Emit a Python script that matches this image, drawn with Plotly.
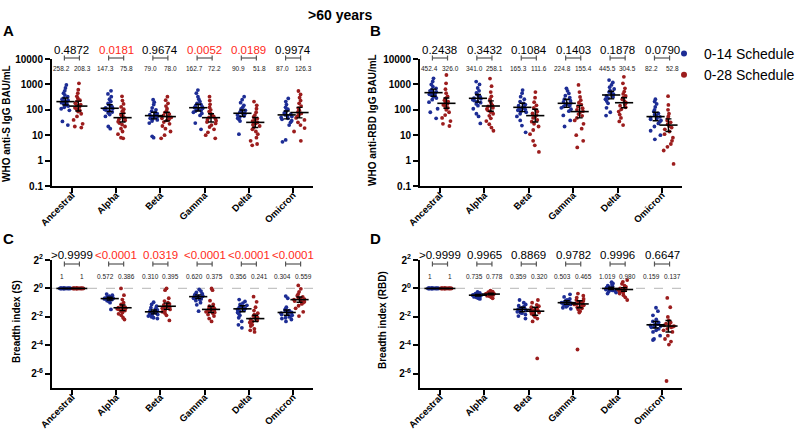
import plotly.graph_objects as go

# ---------------- data ----------------
categories = ["Ancestral", "Alpha", "Beta", "Gamma", "Delta", "Omicron"]
series_names = ["0-14 Schedule", "0-28 Schedule"]

# Panel A: WHO anti-S IgG BAU/mL
A_blue = [
    [950, 720, 560, 450, 380, 330, 290, 260, 240, 220, 205, 190, 175, 160, 150, 140, 125, 110, 95, 35, 25],
    [560, 420, 330, 260, 210, 180, 160, 145, 130, 120, 112, 105, 98, 90, 82, 75, 65, 55, 22, 18],
    [250, 200, 160, 120, 100, 88, 78, 70, 64, 60, 56, 52, 49, 46, 43, 40, 36, 30, 9, 8],
    [600, 450, 330, 260, 210, 180, 160, 145, 130, 122, 115, 108, 100, 94, 88, 80, 72, 60, 30, 17],
    [330, 250, 190, 150, 125, 108, 95, 86, 80, 74, 70, 66, 62, 57, 52, 47, 42, 36, 11],
    [280, 210, 160, 125, 105, 92, 82, 74, 68, 63, 58, 54, 50, 46, 42, 37, 32, 25, 6.5, 5.5],
]
A_red = [
    [1100, 620, 450, 340, 280, 240, 210, 180, 160, 145, 130, 120, 105, 95, 85, 70, 55, 40, 28, 22, 20],
    [340, 230, 170, 130, 105, 88, 75, 65, 58, 52, 47, 42, 38, 34, 30, 26, 22, 18, 14, 11, 8, 7.5],
    [330, 240, 180, 140, 110, 90, 78, 68, 60, 54, 50, 46, 42, 38, 33, 28, 23, 18, 14, 10, 7.5],
    [330, 230, 165, 125, 100, 85, 72, 62, 55, 50, 45, 41, 37, 33, 29, 25, 21, 17, 13, 10, 7.5],
    [210, 150, 110, 80, 62, 52, 45, 40, 36, 32, 29, 26, 23, 20, 17, 14, 11, 8, 6, 4.5, 4],
    [550, 400, 300, 230, 180, 140, 115, 95, 82, 72, 64, 56, 48, 40, 32, 25, 19, 14, 6],
]
A_blue_mean = [210, 115, 59, 121, 73, 63]
A_blue_lo = [155, 85, 44, 90, 55, 44]
A_blue_hi = [290, 160, 80, 165, 98, 90]
A_red_mean = [140, 49, 54, 49, 32, 78]
A_red_lo = [90, 33, 36, 33, 20, 48]
A_red_hi = [220, 72, 80, 70, 50, 125]
A_p = ["0.4872", "0.0181", "0.9674", "0.0052", "0.0189", "0.9974"]
A_p_sig = [False, True, False, True, True, False]
A_gmt_blue = ["258.2", "147.3", "79.0", "162.7", "90.9", "87.0"]
A_gmt_red = ["208.3", "75.8", "78.0", "72.2", "51.8", "126.3"]

# Panel B: WHO anti-RBD IgG BAU/mL
B_blue = [
    [1740, 1300, 1000, 820, 700, 620, 560, 510, 470, 440, 410, 380, 350, 320, 290, 250, 200, 110, 80, 46],
    [1290, 1000, 720, 560, 460, 400, 350, 320, 290, 270, 250, 230, 210, 190, 170, 145, 110, 70, 55, 29],
    [600, 450, 330, 260, 210, 180, 160, 145, 130, 120, 112, 104, 96, 88, 80, 70, 55, 38, 24, 13],
    [700, 560, 440, 360, 300, 260, 230, 205, 185, 170, 158, 146, 134, 120, 105, 88, 60, 38, 22],
    [1480, 1200, 950, 780, 660, 570, 500, 450, 410, 380, 350, 320, 290, 260, 220, 180, 120, 80, 59],
    [260, 210, 170, 130, 100, 85, 72, 64, 58, 53, 49, 45, 42, 38, 34, 29, 22, 15, 10, 6.9],
]
B_red = [
    [2340, 1100, 650, 450, 340, 280, 240, 210, 190, 170, 155, 140, 120, 100, 80, 62, 48, 36, 28, 23],
    [1700, 850, 500, 340, 260, 210, 175, 150, 135, 120, 108, 95, 82, 70, 58, 46, 36, 27, 20, 15],
    [500, 300, 200, 150, 120, 100, 85, 72, 62, 55, 48, 40, 34, 28, 22, 16, 11, 6, 4, 2.2],
    [950, 500, 320, 240, 190, 160, 135, 115, 100, 88, 78, 68, 58, 48, 38, 28, 18, 10, 6, 3.3],
    [1990, 1100, 700, 520, 420, 350, 300, 260, 220, 190, 165, 145, 125, 105, 85, 65, 48, 35, 25],
    [345, 155, 100, 70, 55, 45, 38, 32, 27, 23, 20, 17, 14, 11, 8, 6, 4.5, 3.5, 2.5, 0.74],
]
B_blue_mean = [473, 283, 125, 180, 383, 54]
B_blue_lo = [340, 200, 85, 125, 270, 37]
B_blue_hi = [650, 400, 180, 260, 540, 80]
B_red_mean = [180, 141, 59, 85, 190, 25]
B_red_lo = [115, 88, 33, 48, 120, 14]
B_red_hi = [290, 225, 105, 150, 300, 44]
B_p = ["0.2438", "0.3432", "0.1084", "0.1403", "0.1878", "0.0790"]
B_p_sig = [False, False, False, False, False, False]
B_gmt_blue = ["452.4", "341.0", "165.3", "224.8", "445.5", "82.2"]
B_gmt_red = ["326.0", "258.1", "111.6", "155.4", "304.5", "52.8"]

# Panel C: Breadth index (S)
C_blue = [
    [1, 1, 1, 1, 1, 1, 1, 1, 1, 1, 1, 1, 1, 1, 1, 1, 1, 1, 1, 1],
    [0.76, 0.72, 0.69, 0.67, 0.66, 0.65, 0.64, 0.63, 0.62, 0.61, 0.60, 0.60, 0.59, 0.58, 0.57, 0.56, 0.55, 0.53, 0.50, 0.36],
    [0.51, 0.46, 0.42, 0.39, 0.37, 0.35, 0.34, 0.33, 0.32, 0.31, 0.30, 0.29, 0.29, 0.28, 0.27, 0.26, 0.25, 0.24, 0.23],
    [0.95, 0.88, 0.82, 0.78, 0.75, 0.72, 0.70, 0.68, 0.67, 0.66, 0.65, 0.63, 0.62, 0.60, 0.58, 0.55, 0.50, 0.45, 0.33],
    [0.58, 0.53, 0.49, 0.46, 0.44, 0.42, 0.40, 0.39, 0.38, 0.37, 0.36, 0.35, 0.33, 0.31, 0.29, 0.27, 0.24, 0.20, 0.17, 0.147],
    [0.69, 0.62, 0.40, 0.37, 0.35, 0.34, 0.33, 0.32, 0.31, 0.30, 0.29, 0.28, 0.27, 0.26, 0.25, 0.24, 0.23, 0.22, 0.20],
]
C_red = [
    [1, 1, 1, 1, 1, 1, 1, 1, 1, 1, 1, 1, 1, 1, 1, 1, 1, 1, 1, 1],
    [1.0, 0.72, 0.58, 0.50, 0.46, 0.43, 0.41, 0.40, 0.39, 0.38, 0.37, 0.36, 0.35, 0.34, 0.33, 0.31, 0.29, 0.27, 0.24, 0.22],
    [1.0, 0.92, 0.62, 0.54, 0.50, 0.47, 0.45, 0.43, 0.42, 0.41, 0.40, 0.38, 0.37, 0.36, 0.34, 0.32, 0.30, 0.27, 0.21],
    [1.0, 0.92, 0.55, 0.46, 0.42, 0.40, 0.38, 0.37, 0.36, 0.35, 0.34, 0.33, 0.32, 0.31, 0.30, 0.28, 0.26, 0.23, 0.20],
    [0.67, 0.52, 0.40, 0.34, 0.30, 0.28, 0.26, 0.25, 0.24, 0.23, 0.22, 0.21, 0.20, 0.19, 0.18, 0.17, 0.16, 0.14, 0.13, 0.12],
    [1.16, 0.98, 0.85, 0.76, 0.70, 0.66, 0.63, 0.61, 0.59, 0.58, 0.56, 0.54, 0.52, 0.50, 0.47, 0.43, 0.38, 0.32, 0.26],
]
C_blue_mean = [1, 0.61, 0.32, 0.67, 0.37, 0.31]
C_blue_lo = [1, 0.57, 0.29, 0.61, 0.32, 0.27]
C_blue_hi = [1, 0.65, 0.35, 0.73, 0.43, 0.35]
C_red_mean = [1, 0.39, 0.42, 0.36, 0.23, 0.58]
C_red_lo = [1, 0.34, 0.36, 0.31, 0.20, 0.51]
C_red_hi = [1, 0.45, 0.49, 0.42, 0.27, 0.66]
C_p = [">0.9999", "<0.0001", "0.0319", "<0.0001", "<0.0001", "<0.0001"]
C_p_sig = [False, True, True, True, True, True]
C_gmt_blue = ["1", "0.572", "0.310", "0.620", "0.356", "0.304"]
C_gmt_red = ["1", "0.386", "0.395", "0.375", "0.241", "0.559"]

# Panel D: Breadth index (RBD)
D_blue = [
    [1, 1, 1, 1, 1, 1, 1, 1, 1, 1, 1, 1, 1, 1, 1, 1, 1, 1, 1, 1],
    [0.84, 0.80, 0.78, 0.76, 0.75, 0.74, 0.73, 0.72, 0.72, 0.71, 0.70, 0.69, 0.68, 0.67, 0.66, 0.64, 0.62, 0.60],
    [0.57, 0.50, 0.46, 0.43, 0.41, 0.39, 0.38, 0.37, 0.36, 0.35, 0.34, 0.33, 0.32, 0.31, 0.30, 0.28, 0.26, 0.23],
    [0.75, 0.66, 0.60, 0.57, 0.55, 0.53, 0.51, 0.50, 0.49, 0.48, 0.47, 0.46, 0.45, 0.43, 0.41, 0.39, 0.37],
    [1.36, 1.28, 1.20, 1.14, 1.10, 1.07, 1.04, 1.02, 1.00, 0.99, 0.97, 0.95, 0.93, 0.91, 0.89, 0.86, 0.82, 0.78],
    [0.39, 0.33, 0.27, 0.22, 0.20, 0.19, 0.18, 0.175, 0.17, 0.165, 0.16, 0.155, 0.15, 0.14, 0.13, 0.12, 0.10, 0.085, 0.081],
]
D_red = [
    [1, 1, 1, 1, 1, 1, 1, 1, 1, 1, 1, 1, 1, 1, 1, 1, 1, 1, 1, 1],
    [0.90, 0.86, 0.83, 0.81, 0.80, 0.79, 0.78, 0.77, 0.76, 0.75, 0.74, 0.73, 0.72, 0.71, 0.70, 0.68, 0.65, 0.62],
    [0.57, 0.50, 0.45, 0.42, 0.40, 0.38, 0.36, 0.35, 0.34, 0.33, 0.32, 0.31, 0.30, 0.29, 0.27, 0.25, 0.23, 0.20, 0.033],
    [0.78, 0.70, 0.64, 0.60, 0.57, 0.54, 0.52, 0.50, 0.48, 0.47, 0.46, 0.44, 0.42, 0.40, 0.38, 0.36, 0.33, 0.31, 0.051],
    [1.50, 1.38, 1.25, 1.15, 1.08, 1.03, 1.00, 0.97, 0.95, 0.93, 0.90, 0.88, 0.85, 0.82, 0.78, 0.72, 0.65, 0.57],
    [0.63, 0.40, 0.25, 0.21, 0.19, 0.18, 0.17, 0.165, 0.16, 0.155, 0.15, 0.14, 0.13, 0.12, 0.10, 0.085, 0.075, 0.065, 0.011],
]
D_blue_mean = [1, 0.72, 0.36, 0.50, 1.0, 0.17]
D_blue_lo = [1, 0.69, 0.32, 0.46, 0.95, 0.145]
D_blue_hi = [1, 0.75, 0.40, 0.55, 1.06, 0.20]
D_red_mean = [1, 0.76, 0.33, 0.47, 0.95, 0.16]
D_red_lo = [1, 0.73, 0.27, 0.39, 0.87, 0.12]
D_red_hi = [1, 0.79, 0.40, 0.55, 1.04, 0.21]
D_p = [">0.9999", "0.9965", "0.8869", "0.9782", "0.9996", "0.6647"]
D_p_sig = [False, False, False, False, False, False]
D_gmt_blue = ["1", "0.735", "0.359", "0.503", "1.019", "0.159"]
D_gmt_red = ["1", "0.778", "0.320", "0.465", "0.980", "0.137"]

# ---------------- styling / layout ----------------
W, H = 800, 433
FONT = "Liberation Sans, Arial, sans-serif"
BLUE = "#1d2d95"
RED = "#9c1d1d"
PRED = "#ff2a1a"
OFF = 0.145


def fx(p):
    return p / W


def fy(p):
    return (H - p) / H


panels = [
    dict(letter="A", xa="x", ya="y", xpx=(52, 313), ypx=(59, 186), kind="bau",
         blue=A_blue, red=A_red, bm=A_blue_mean, bl=A_blue_lo, bh=A_blue_hi,
         rm=A_red_mean, rl=A_red_lo, rh=A_red_hi, p=A_p, sig=A_p_sig,
         gb=A_gmt_blue, gr=A_gmt_red, title="WHO anti-S IgG BAU/mL",
         title_x=7, title_y=124, letter_x=8, letter_y=31, ann_y=(50, 58, 68)),
    dict(letter="B", xa="x2", ya="y2", xpx=(420, 682), ypx=(59, 186), kind="bau",
         blue=B_blue, red=B_red, bm=B_blue_mean, bl=B_blue_lo, bh=B_blue_hi,
         rm=B_red_mean, rl=B_red_lo, rh=B_red_hi, p=B_p, sig=B_p_sig,
         gb=B_gmt_blue, gr=B_gmt_red, title="WHO anti-RBD IgG BAU/mL",
         title_x=373, title_y=120, letter_x=375, letter_y=31, ann_y=(50, 58, 68)),
    dict(letter="C", xa="x3", ya="y3", xpx=(52, 313), ypx=(260, 388), kind="bi",
         blue=C_blue, red=C_red, bm=C_blue_mean, bl=C_blue_lo, bh=C_blue_hi,
         rm=C_red_mean, rl=C_red_lo, rh=C_red_hi, p=C_p, sig=C_p_sig,
         gb=C_gmt_blue, gr=C_gmt_red, title="Breadth index (S)",
         title_x=16, title_y=322, letter_x=8, letter_y=238, ann_y=(255, 264, 276)),
    dict(letter="D", xa="x4", ya="y4", xpx=(420, 682), ypx=(260, 388), kind="bi",
         blue=D_blue, red=D_red, bm=D_blue_mean, bl=D_blue_lo, bh=D_blue_hi,
         rm=D_red_mean, rl=D_red_lo, rh=D_red_hi, p=D_p, sig=D_p_sig,
         gb=D_gmt_blue, gr=D_gmt_red, title="Breadth index (RBD)",
         title_x=382, title_y=320, letter_x=375, letter_y=238, ann_y=(255, 264, 276)),
]

LOG2 = 0.30102999566
fig = go.Figure()
annotations = []
shapes = []
layout_axes = {}


def ann(**kw):
    d = dict(showarrow=False, xanchor="center", yanchor="middle")
    d.update(kw)
    annotations.append(d)


for pn in panels:
    xa, ya = pn["xa"], pn["ya"]
    for vals_list, off, color, mean, lo, hi in [
        (pn["blue"], -OFF, BLUE, pn["bm"], pn["bl"], pn["bh"]),
        (pn["red"], OFF, RED, pn["rm"], pn["rl"], pn["rh"]),
    ]:
        xs, ys = [], []
        for i, vals in enumerate(vals_list):
            for v in vals:
                xs.append(i + off)
                ys.append(v)
        fig.add_trace(go.Box(
            x=xs, y=ys, xaxis=xa, yaxis=ya, boxpoints="all", jitter=1.0, pointpos=0,
            width=0.26, fillcolor="rgba(0,0,0,0)", line=dict(color="rgba(0,0,0,0)", width=0),
            marker=dict(color=color, size=3.8, line=dict(width=0)), showlegend=False,
            hoverinfo="y"))
        fig.add_trace(go.Scatter(
            x=[i + off for i in range(len(categories))], y=mean, xaxis=xa, yaxis=ya,
            mode="markers", showlegend=False,
            marker=dict(symbol="line-ew", size=13, color="black", line=dict(width=1.6, color="black")),
            error_y=dict(type="data", symmetric=False,
                         array=[h - m for h, m in zip(hi, mean)],
                         arrayminus=[m - l for m, l in zip(mean, lo)],
                         color="black", thickness=1.4, width=3)))

    # axes
    xn = xa.replace("x", "xaxis")
    yn = ya.replace("y", "yaxis")
    common = dict(showline=True, linewidth=2, linecolor="black", ticks="outside",
                  ticklen=5, tickwidth=2, tickcolor="black", showgrid=False, zeroline=False,
                  fixedrange=True, automargin=False)
    layout_axes[xn] = dict(common, domain=[fx(pn["xpx"][0]), fx(pn["xpx"][1])], anchor=ya,
                           range=[-0.45, 5.45], tickmode="array", tickvals=list(range(6)),
                           ticktext=["<b>%s</b>" % c for c in categories], tickangle=-45,
                           ticklabelstandoff=-7,
                           tickfont=dict(family=FONT, size=9.5, color="black"))
    if pn["kind"] == "bau":
        yrange = [-1, 4]
        tv = [0.1, 1, 10, 100, 1000, 10000]
        tt = ["<b>0.1</b>", "<b>1</b>", "<b>10</b>", "<b>100</b>", "<b>1000</b>", "<b>10000</b>"]
    else:
        yrange = [-7 * LOG2, 2 * LOG2]
        tv = [4, 1, 0.25, 0.0625, 0.015625]
        tt = ["<b>2<sup>2</sup></b>", "<b>2<sup>0</sup></b>", "<b>2<sup>-2</sup></b>",
              "<b>2<sup>-4</sup></b>", "<b>2<sup>-6</sup></b>"]
    ydom = [fy(pn["ypx"][1]), fy(pn["ypx"][0])]
    layout_axes[yn] = dict(common, domain=ydom, anchor=xa, type="log", range=yrange,
                           tickmode="array", tickvals=tv, ticktext=tt,
                           tickfont=dict(family=FONT, size=10, color="black"))

    # dashed reference line at 2^0
    if pn["kind"] == "bi":
        frac = (0 - yrange[0]) / (yrange[1] - yrange[0])
        yp = ydom[0] + frac * (ydom[1] - ydom[0])
        shapes.append(dict(type="line", xref=xa + " domain", yref="paper", x0=0, x1=1,
                           y0=yp, y1=yp, layer="below",
                           line=dict(color="#c4c4c4", width=1.2, dash="dash")))

    # p-values, brackets, GMT labels
    py, by, gy = pn["ann_y"]
    for i in range(len(categories)):
        ann(x=i, y=fy(py), xref=xa, yref="paper", text=pn["p"][i],
            font=dict(family=FONT, size=11.5, color=PRED if pn["sig"][i] else "black"))
        bl = dict(color="#555555", width=1.2)
        shapes.append(dict(type="line", xref=xa, yref="paper", x0=i - 0.17, x1=i + 0.17,
                           y0=fy(by), y1=fy(by), line=bl))
        for xe in (i - 0.17, i + 0.17):
            shapes.append(dict(type="line", xref=xa, yref="paper", x0=xe, x1=xe,
                               y0=fy(by - 2.5), y1=fy(by + 2.5), line=bl))
        ann(x=i - 0.23, y=fy(gy), xref=xa, yref="paper", text=pn["gb"][i],
            font=dict(family=FONT, size=6.5, color="#222222"))
        ann(x=i + 0.23, y=fy(gy), xref=xa, yref="paper", text=pn["gr"][i],
            font=dict(family=FONT, size=6.5, color="#222222"))

    # y titles and panel letters
    ann(x=fx(pn["title_x"]), y=fy(pn["title_y"]), xref="paper", yref="paper",
        text="<b>%s</b>" % pn["title"], textangle=-90,
        font=dict(family=FONT, size=10, color="black"))
    ann(x=fx(pn["letter_x"]), y=fy(pn["letter_y"]), xref="paper", yref="paper",
        text="<b>%s</b>" % pn["letter"], font=dict(family=FONT, size=15, color="black"))

ann(x=fx(340), y=fy(15), xref="paper", yref="paper", text="<b>&gt;60 years</b>",
    font=dict(family=FONT, size=14, color="black"))

# legend entries
for name, color in zip(series_names, [BLUE, RED]):
    fig.add_trace(go.Scatter(x=[None], y=[None], mode="markers", name=name,
                             marker=dict(color=color, size=6), showlegend=True))

fig.update_layout(
    template="none",
    width=W, height=H, margin=dict(l=0, r=0, t=0, b=0, autoexpand=False),
    plot_bgcolor="white", paper_bgcolor="white", boxmode="overlay",
    font=dict(family=FONT, color="black"),
    annotations=annotations, shapes=shapes,
    legend=dict(x=1.0, y=fy(38), xanchor="right", yanchor="top",
                font=dict(family=FONT, size=14, color="black"),
                bgcolor="rgba(0,0,0,0)", tracegroupgap=2),
    **layout_axes,
)

fig.write_html("out.html", config={"displayModeBar": False},
               post_script="document.body.style.margin='0';document.body.style.padding='0';")
